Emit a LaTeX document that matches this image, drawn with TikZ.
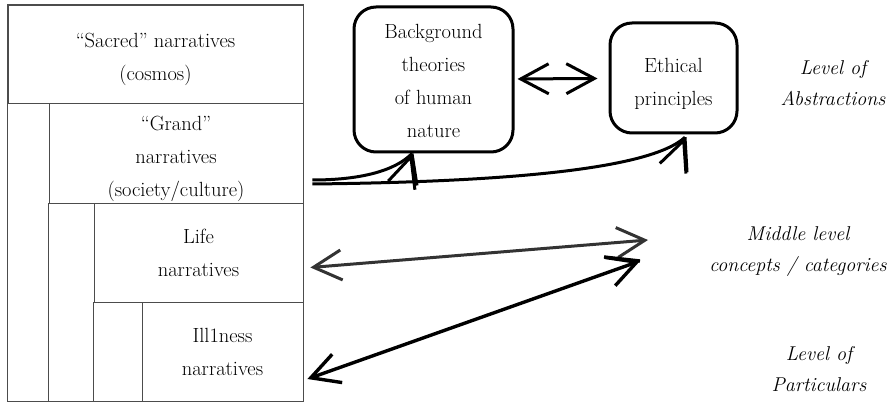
\documentclass[tikz,border=0pt]{standalone}
\usetikzlibrary{arrows.meta, positioning, calc}
\newcommand\textdrop[1]{\rule{0pt}{#1}}

\begin{document}
\begin{tikzpicture}[
    x=1pt, y=-1pt,
    narr/.style={rectangle, draw=black!70, line width=0.8pt, inner sep=0pt, align=center, font=\fontsize{20.5}{33}\selectfont},
    theory/.style={rectangle, rounded corners=22pt, draw, line width=3pt, inner sep=0pt, align=center, font=\fontsize{20.5}{33}\selectfont},
    level/.style={align=center, font=\fontsize{20}{31}\selectfont\itshape},
    barb/.style={{Straight Barb[length=28pt, width=30pt]}-{Straight Barb[length=28pt, width=30pt]}, line width=3pt},
    rise/.style={-{Straight Barb[length=30pt, width=28pt]}, line width=3pt}
]
\useasboundingbox (0,0) rectangle (888,403);

% nested narratives
\node[narr, minimum width=295pt, minimum height=98pt] (sacred) at (155.5,54) {\textdrop{26pt}``Sacred'' narratives\\(cosmos)};
\node[narr, minimum width=254pt, minimum height=100pt] (grand) at (176,153) {\textdrop{26pt}``Grand''\\narratives\\(society/culture)};
\node[narr, minimum width=209pt, minimum height=99pt] (life) at (198.5,252.5) {Life\\narratives};
\node[narr, minimum width=161pt, minimum height=99pt] (ill) at (222.5,351.5) {Ill1ness\\narratives};
\draw[black!70, line width=0.8pt] (sacred.north west) rectangle (ill.south east);
\draw[black!70, line width=0.8pt] (grand.south west) -- (grand.south west |- ill.south);
\draw[black!70, line width=0.8pt] (life.south west) -- (life.south west |- ill.south);

% abstractions
\node[theory, minimum width=159pt, minimum height=145pt] (bg) at (433.5,79.5) {\textdrop{18pt}Background\\theories\\of human\\nature};
\node[theory, minimum width=127pt, minimum height=110pt] (eth) at (673.5,78) {\textdrop{26pt}Ethical\\principles};
\draw[barb, shorten <=3pt, shorten >=11pt] (bg) -- (eth);

% level labels
\node[level] (abs) at (833,83) {Level of\\Abstractions};
\node[level] (mid) at (798,252) {Middle level\\concepts / categories};
\node[level] (part) at (819,369) {Level of\\Particulars};

% connectors
\coordinate (gs1) at ([xshift=9pt, yshift=-27pt]grand.east);
\coordinate (gs2) at ([xshift=9pt, yshift=-31pt]grand.east);
\coordinate (bgin) at ([xshift=-21.5pt]bg.south);
\coordinate (ethin) at ([xshift=11.5pt, yshift=-2.7pt]eth.south);
\draw[line width=3pt] (gs1) .. controls (360,180) and (395,171) .. (bgin);
\draw[rise] (bgin) ++(-0.31,0.95) -- (bgin);
\draw[line width=3pt] (bgin) -- ++(5,32);
\draw[line width=3pt] (gs2) .. controls (500,182) and (650,170) .. (ethin);
\draw[rise] (ethin) ++(-0.36,0.93) -- (ethin);
\draw[line width=3pt] (ethin) -- ++(2,35);

\coordinate (midL) at (648,240);
\coordinate (midP) at (640,261);
\draw[barb, draw=black!80] ([xshift=7pt, yshift=-15pt]life.east) -- (midL);
\draw[barb, line width=3.4pt] ([xshift=4pt, yshift=-27.5pt]ill.east) -- (midP);
\draw[line width=3.4pt] (midP) -- ++(-36,-4);
\end{tikzpicture}
\end{document}
